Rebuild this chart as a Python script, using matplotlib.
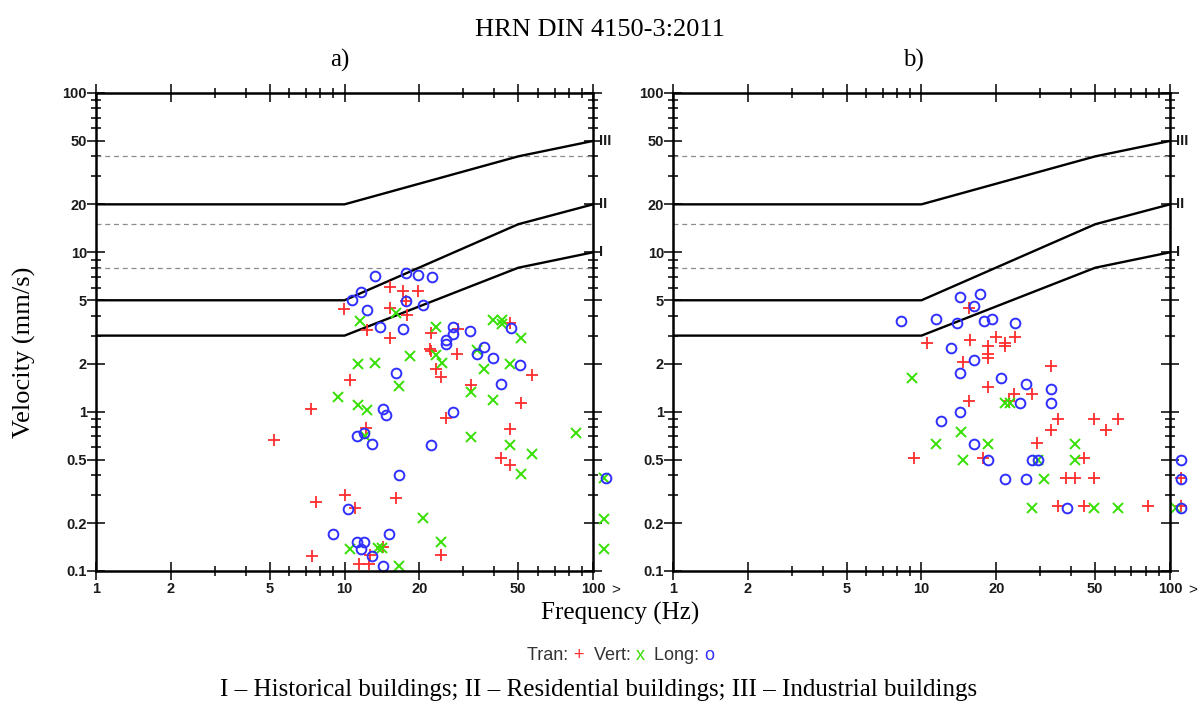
import matplotlib
matplotlib.use("Agg")
import matplotlib.pyplot as plt
from matplotlib.ticker import FixedLocator, NullFormatter
from matplotlib.transforms import blended_transform_factory

plt.rcParams["font.family"] = ["Liberation Sans", "DejaVu Sans"]

SERIF = ["Liberation Serif", "DejaVu Serif"]

# limit curves of HRN DIN 4150-3 (I historical, II residential, III industrial)
curve_f = [1, 10, 50, 100]
curve_I = [3, 3, 8, 10]
curve_II = [5, 5, 15, 20]
curve_III = [20, 20, 40, 50]
dashed_levels = [8, 15, 40]

x_ticks = [1, 2, 5, 10, 20, 50, 100]
x_labels = ["1", "2", "5", "10", "20", "50", "100"]
y_ticks = [0.1, 0.2, 0.5, 1, 2, 5, 10, 20, 50, 100]
y_labels = ["0.1", "0.2", "0.5", "1", "2", "5", "10", "20", "50", "100"]

# ---- panel a) ----
tran_f_a = [15.2, 17.2, 19.8, 9.95, 15.2, 17.7, 17.8, 12.3, 15.2, 22.3,
            28.6, 46.3, 22.1, 22.3, 28.4, 23.4, 24.5, 10.5, 32.2, 56.7,
            51.2, 25.6, 12.2, 46.3, 42.5, 46.3, 10.0, 11.0, 16.1, 14.3,
            12.7, 11.4, 12.6, 24.5, 7.4, 7.3, 5.2, 7.7]
tran_v_a = [6.06, 5.72, 5.72, 4.43, 4.50, 4.95, 4.04, 3.26, 2.89, 3.13,
            3.32, 3.62, 2.46, 2.40, 2.29, 1.85, 1.64, 1.57, 1.46, 1.69,
            1.14, 0.91, 0.79, 0.78, 0.51, 0.46, 0.30, 0.25, 0.286, 0.142,
            0.126, 0.110, 0.110, 0.126, 0.124, 1.035, 0.66, 0.27]

vert_f_a = [11.5, 16.1, 23.4, 39.5, 42.9, 42.9, 51.2, 18.3, 23.4, 24.6,
            34.0, 36.5, 46.3, 11.3, 13.3, 16.6, 9.4, 11.3, 12.3, 32.2,
            39.5, 12.1, 32.2, 46.3, 56.7, 51.2, 85.2, 111, 111, 111,
            20.6, 24.5, 10.5, 13.6, 14.1, 16.6]
vert_v_a = [3.71, 4.18, 3.42, 3.76, 3.76, 3.57, 2.89, 2.22, 2.26, 2.03,
            2.43, 1.85, 2.0, 1.98, 2.01, 1.44, 1.24, 1.10, 1.025, 1.32,
            1.18, 0.70, 0.69, 0.62, 0.54, 0.405, 0.73, 0.385, 0.213, 0.138,
            0.214, 0.152, 0.138, 0.14, 0.14, 0.107]

long_f_a = [13.3, 17.7, 19.8, 22.4, 11.7, 10.75, 17.7, 20.6, 12.3, 13.9,
            17.2, 27.2, 27.2, 32.0, 25.6, 25.6, 46.6, 36.5, 34.0, 39.5,
            50.9, 16.1, 42.7, 14.3, 14.7, 27.2, 11.2, 12.0, 12.9, 22.3,
            16.6, 10.3, 9.0, 11.2, 12.0, 11.7, 15.1, 12.9, 14.3, 113]
long_v_a = [7.11, 7.39, 7.21, 7.04, 5.64, 5.0, 4.95, 4.65, 4.33, 3.42,
            3.32, 3.42, 3.09, 3.21, 2.82, 2.65, 3.37, 2.55, 2.29, 2.18,
            1.96, 1.74, 1.50, 1.04, 0.95, 1.0, 0.70, 0.73, 0.63, 0.615,
            0.40, 0.244, 0.17, 0.153, 0.153, 0.138, 0.17, 0.124, 0.107, 0.385]

# ---- panel b) ----
tran_f_b = [15.6, 10.5, 15.7, 18.5, 18.5, 18.5, 19.95, 21.7, 21.7, 23.8,
            14.7, 33.2, 18.5, 23.6, 27.8, 22.6, 15.6, 35.5, 49.6, 61.6,
            33.2, 55.1, 29.2, 9.3, 17.7, 45.1, 38.1, 41.5, 49.6, 35.5,
            45.1, 81.8, 110.4, 110.4]
tran_v_b = [4.50, 2.71, 2.82, 2.59, 2.29, 2.16, 2.96, 2.71, 2.59, 2.96,
            2.06, 1.94, 1.42, 1.29, 1.29, 1.16, 1.16, 0.90, 0.90, 0.90,
            0.77, 0.77, 0.64, 0.51, 0.51, 0.51, 0.385, 0.385, 0.385, 0.256,
            0.256, 0.256, 0.385, 0.256]

vert_f_b = [9.2, 21.7, 22.7, 14.4, 11.4, 18.6, 41.5, 14.7, 41.5, 29.5,
            31.2, 27.8, 49.6, 61.6, 105.7]
vert_v_b = [1.62, 1.13, 1.13, 0.75, 0.63, 0.63, 0.63, 0.50, 0.50, 0.50,
            0.376, 0.25, 0.25, 0.25, 0.25]

long_f_b = [14.3, 17.2, 16.3, 8.25, 11.4, 13.9, 17.9, 19.3, 23.8, 13.2,
            16.2, 14.3, 20.8, 26.3, 33.2, 24.9, 33.2, 14.3, 12.0, 16.2,
            18.6, 27.8, 29.5, 21.7, 26.3, 38.4, 110.4, 110.4, 110.4]
long_v_b = [5.25, 5.46, 4.61, 3.71, 3.84, 3.62, 3.71, 3.84, 3.62, 2.52,
            2.10, 1.74, 1.62, 1.49, 1.38, 1.13, 1.13, 1.0, 0.874, 0.63,
            0.50, 0.50, 0.50, 0.376, 0.376, 0.25, 0.50, 0.376, 0.25]

RED = "#ff2d2d"
GREEN = "#36e000"
BLUE = "#2f2fff"
TICK_TEXT = "#1a1a1a"


def style_axes(ax):
    """Log-log frame with crossing ticks on all four sides."""
    ax.set_xscale("log")
    ax.set_yscale("log")
    ax.set_xlim(1, 100)
    ax.set_ylim(0.1, 100)

    minor = [k * 10 ** e for e in (-1, 0, 1) for k in (3, 4, 6, 7, 8, 9)]
    ax.set_xticks(x_ticks, labels=x_labels)
    ax.set_yticks(y_ticks, labels=y_labels)
    ax.xaxis.set_minor_locator(FixedLocator([m for m in minor if m > 1]))
    ax.yaxis.set_minor_locator(FixedLocator(minor))
    ax.xaxis.set_minor_formatter(NullFormatter())
    ax.yaxis.set_minor_formatter(NullFormatter())

    ax.tick_params(which="both", direction="inout", top=True, right=True,
                   width=1.1, color="black", labelcolor=TICK_TEXT, labelsize=10.5)
    ax.tick_params(which="major", length=13)
    ax.tick_params(which="minor", length=7)
    ax.tick_params(axis="x", pad=1.5)
    ax.tick_params(axis="y", pad=0.0)
    for lbl in ax.get_xticklabels() + ax.get_yticklabels():
        lbl.set_fontweight("bold")
    for spine in ax.spines.values():
        spine.set_linewidth(1.8)


def draw_panel(ax, tran_f, tran_v, vert_f, vert_v, long_f, long_v):
    style_axes(ax)

    # dashed guide levels and limit curves
    ax.hlines(dashed_levels, 1, 100, colors="#8c8c8c", linestyles=(0, (4, 3)), linewidth=0.9)
    for vals in (curve_I, curve_II, curve_III):
        ax.plot(curve_f, vals, color="black", linewidth=1.7)

    ax.plot(tran_f, tran_v, linestyle="none", marker="+", markersize=8,
            markeredgewidth=1.3, color=RED, clip_on=False)
    ax.plot(vert_f, vert_v, linestyle="none", marker="x", markersize=6.5,
            markeredgewidth=1.4, color=GREEN, clip_on=False)
    ax.plot(long_f, long_v, linestyle="none", marker="o", markersize=7,
            markeredgewidth=1.4, markerfacecolor="none", markeredgecolor=BLUE, clip_on=False)

    # roman class labels at the right edge
    trans = blended_transform_factory(ax.transAxes, ax.transData)
    for txt, lvl in (("III", 50), ("II", 20), ("I", 10)):
        ax.text(1.012, lvl, txt, transform=trans, ha="left", va="center",
                fontsize=10.5, fontweight="bold", color=TICK_TEXT)
    ax.text(1.045, -0.040, ">", transform=ax.transAxes, ha="center", va="center",
            fontsize=11, color=TICK_TEXT)


fig = plt.figure(figsize=(11.99, 7.07), dpi=100)
ax_a = fig.add_axes([0.0801, 0.1924, 0.4145, 0.6761])
ax_b = fig.add_axes([0.5613, 0.1924, 0.4145, 0.6761])

draw_panel(ax_a, tran_f_a, tran_v_a, vert_f_a, vert_v_a, long_f_a, long_v_a)
draw_panel(ax_b, tran_f_b, tran_v_b, vert_f_b, vert_v_b, long_f_b, long_v_b)

fig.text(0.5004, 0.9576, "HRN DIN 4150-3:2011", ha="center", va="center", fontsize=19, family=SERIF)
fig.text(0.2836, 0.9151, "a)", ha="center", va="center", fontsize=18, family=SERIF)
fig.text(0.7615, 0.9151, "b)", ha="center", va="center", fontsize=18, family=SERIF)
fig.text(0.0208, 0.5021, "Velocity (mm/s)", rotation=90, ha="center", va="center",
         fontsize=19, family=SERIF)
fig.text(0.5171, 0.1330, "Frequency (Hz)", ha="center", va="center", fontsize=18, family=SERIF)

# legend line: coloured symbols inside the text
pieces = [("Tran: ", "#333333"), ("+", RED), ("  Vert: ", "#333333"), ("x", GREEN),
          ("  Long: ", "#333333"), ("o", BLUE)]
prev = fig.text(0.4395, 0.0735, pieces[0][0], ha="left", va="center", fontsize=13, color=pieces[0][1])
for txt, col in pieces[1:]:
    prev = ax_a.annotate(txt, xy=(1, 0), xycoords=prev, ha="left", va="bottom",
                         fontsize=13, color=col, annotation_clip=False)

fig.text(0.4996, 0.024,
         "I \u2013 Historical buildings; II \u2013 Residential buildings; III \u2013 Industrial buildings",
         ha="center", va="center", fontsize=18, family=SERIF)

fig.savefig("out.png", dpi=100)
